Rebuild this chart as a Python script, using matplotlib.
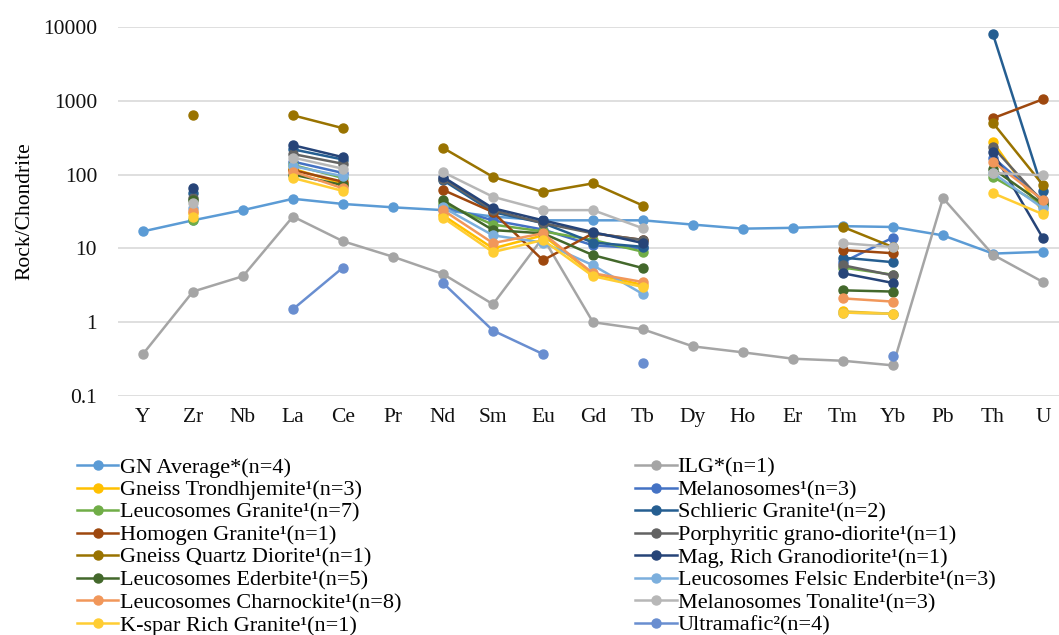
import numpy as np
import matplotlib
matplotlib.use('Agg')
import matplotlib.pyplot as plt

nan = np.nan

elements = ['Y', 'Zr', 'Nb', 'La', 'Ce', 'Pr', 'Nd', 'Sm', 'Eu', 'Gd', 'Tb',
            'Dy', 'Ho', 'Er', 'Tm', 'Yb', 'Pb', 'Th', 'U']

#           Y     Zr    Nb    La    Ce    Pr    Nd    Sm    Eu    Gd    Tb    Dy    Ho    Er    Tm    Yb    Pb    Th    U
gn_average = [17, 24, 33, 47, 40, 36, 33, 27, 24, 24, 24, 21, 18.5, 19, 20, 19.5, 15, 8.5, 9]
ilg = [0.37, 2.6, 4.2, 27, 12.5, 7.7, 4.5, 1.75, 14, 1.0, 0.8, 0.47, 0.39, 0.32, 0.30, 0.26, 48, 8.2, 3.5]
gneiss_trondhjemite = [nan, 30, nan, 120, 75, nan, 28, 10, 15, 4.5, 3.2, nan, nan, nan, 1.4, 1.3, nan, 275, 31]
melanosomes = [nan, nan, nan, 150, 105, nan, 37, 24, 18, 11, 10, nan, nan, nan, 6.5, 14, nan, 170, 45]
leuco_granite = [nan, 24, nan, 135, 90, nan, 41, 21, 17, 13, 9, nan, nan, nan, 5.5, 4.4, nan, 93, 38]
schlieric_granite = [nan, 56, nan, 220, 160, nan, 84, 31, 22, 12, 10.5, nan, nan, nan, 7.5, 6.5, nan, 7950, 60]
homogen_granite = [nan, nan, nan, 115, 80, nan, 62, 31, 6.9, 16, 13, nan, nan, nan, 9.5, 8.6, nan, 580, 1050]
porphyritic = [nan, 48, nan, 190, 140, nan, 88, 33, 22, 16, 13, nan, nan, nan, 5.9, 4.3, nan, 235, 42]
gneiss_qd = [nan, 635, nan, 635, 425, nan, 230, 93, 58, 76, 38, nan, nan, nan, 19.5, 10.4, nan, 500, 72]
mag_rich = [nan, 65, nan, 250, 172, nan, 93, 35, 24, 16.6, 11.8, nan, nan, nan, 4.6, 3.4, nan, 200, 13.7]
leuco_ederbite = [nan, 45, nan, 100, 72, nan, 45, 17.7, 16, 8.1, 5.4, nan, nan, nan, 2.7, 2.6, nan, 120, 40]
felsic_enderbite = [nan, 35, nan, 130, 95, nan, 36, 15, 12, 5.9, 2.4, nan, nan, nan, 1.35, 1.3, nan, 105, 35]
charnockite = [nan, 32, nan, 110, 65, nan, 33, 11.8, 16, 4.6, 3.5, nan, nan, nan, 2.1, 1.9, nan, 150, 45]
tonalite = [nan, 41, nan, 170, 120, nan, 108, 50, 33, 33, 18.7, nan, nan, nan, 11.8, 10.4, nan, 105, 98]
kspar_granite = [nan, 27, nan, 90, 60, nan, 26, 8.9, 13, 4.2, 3.0, nan, nan, nan, 1.35, 1.3, nan, 56, 29]
ultramafic = [nan, nan, nan, 1.5, 5.5, nan, 3.4, 0.77, 0.37, nan, 0.28, nan, nan, nan, nan, 0.35, nan, nan, nan]

series = [
    ('GN Average*(n=4)', gn_average, '#5B9BD5'),
    ('ILG*(n=1)', ilg, '#A5A5A5'),
    ('Gneiss Trondhjemite¹(n=3)', gneiss_trondhjemite, '#FFC000'),
    ('Melanosomes¹(n=3)', melanosomes, '#4472C4'),
    ('Leucosomes Granite¹(n=7)', leuco_granite, '#70AD47'),
    ('Schlieric Granite¹(n=2)', schlieric_granite, '#255E91'),
    ('Homogen Granite¹(n=1)', homogen_granite, '#9E480E'),
    ('Porphyritic grano-diorite¹(n=1)', porphyritic, '#636363'),
    ('Gneiss Quartz Diorite¹(n=1)', gneiss_qd, '#997300'),
    ('Mag, Rich Granodiorite¹(n=1)', mag_rich, '#264478'),
    ('Leucosomes Ederbite¹(n=5)', leuco_ederbite, '#43682B'),
    ('Leucosomes Felsic Enderbite¹(n=3)', felsic_enderbite, '#7CAFDD'),
    ('Leucosomes Charnockite¹(n=8)', charnockite, '#F1975A'),
    ('Melanosomes Tonalite¹(n=3)', tonalite, '#B7B7B7'),
    ('K-spar Rich Granite¹(n=1)', kspar_granite, '#FFCD33'),
    ('Ultramafic²(n=4)', ultramafic, '#698ED0'),
]

plt.rcParams['font.family'] = ['Liberation Serif', 'DejaVu Serif']

fig = plt.figure(figsize=(10.59, 6.35), dpi=100)
ax = fig.add_axes([0.1114, 0.3764, 0.8886, 0.5811])

x = np.arange(len(elements))
handles = []
for label, vals, color in series:
    h, = ax.plot(x, vals, color=color, marker='o', markersize=6.5, linewidth=1.8, label=label)
    handles.append(h)

ax.set_yscale('log')
ax.set_ylim(0.1, 10000)
ax.set_xlim(-0.5, 18.32)
ax.set_yticks([0.1, 1, 10, 100, 1000, 10000])
ax.set_yticklabels(['0.1', '1', '10', '100', '1000', '10000'])
ax.minorticks_off()
ax.set_xticks(x)
ax.set_xticklabels(elements)
ax.tick_params(length=0, labelsize=15.5, colors='#111111')
ax.tick_params(axis='x', pad=9)
ax.tick_params(axis='y', pad=15)
ax.grid(axis='y', color='#D9D9D9', linewidth=1.2)
ax.set_axisbelow(True)
for s in ax.spines.values():
    s.set_visible(False)
ax.set_ylabel('Rock/Chondrite', fontsize=15.5, labelpad=6)

# Legend in two columns, read row by row like the original
left = handles[0::2]
right = handles[1::2]
kw = dict(frameon=False, fontsize=16, handlelength=1.85, handletextpad=0.05,
          labelspacing=0.09, borderaxespad=0, borderpad=0)
fig.legend(handles=left, loc='upper left', bbox_to_anchor=(0.073, 0.28), **kw)
fig.legend(handles=right, loc='upper left', bbox_to_anchor=(0.6, 0.28), **kw)

fig.savefig('out.png', dpi=100)
